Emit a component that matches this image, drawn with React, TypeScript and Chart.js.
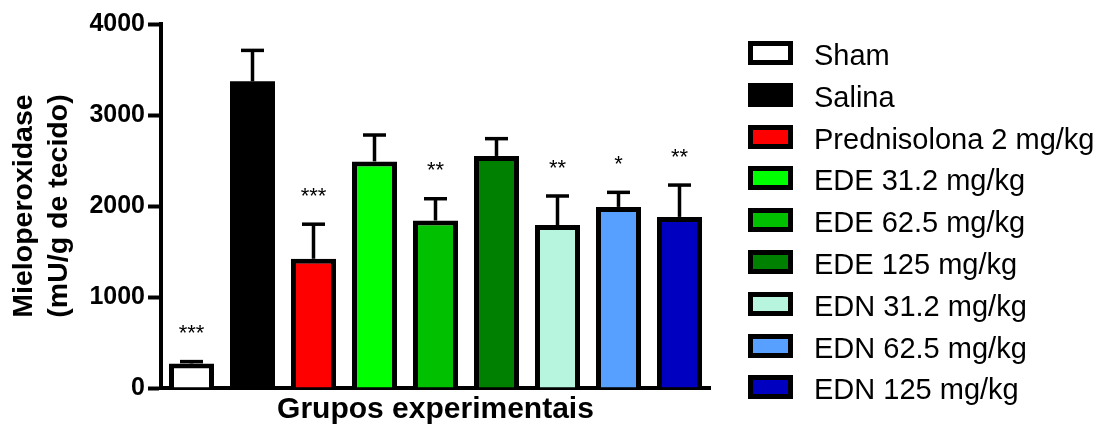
import { useEffect, useRef } from "react";
import { Chart, registerables } from "chart.js";

Chart.register(...registerables);

// Experimental groups (x categories and legend entries)
const groups = [
  "Sham",
  "Salina",
  "Prednisolona 2 mg/kg",
  "EDE 31.2 mg/kg",
  "EDE 62.5 mg/kg",
  "EDE 125 mg/kg",
  "EDN 31.2 mg/kg",
  "EDN 62.5 mg/kg",
  "EDN 125 mg/kg",
];

// Mean myeloperoxidase activity (mU/g de tecido) and its standard error
const meanMpo = [270, 3370, 1420, 2490, 1840, 2550, 1790, 1990, 1880];
const semMpo = [20, 340, 380, 290, 240, 190, 320, 160, 350];

// Significance markers versus the Salina group
const significance = ["***", "", "***", "", "**", "", "**", "*", "**"];

// Fill colour of each group
const fills = [
  "#FFFFFF",
  "#000000",
  "#FF0000",
  "#00FF00",
  "#00C000",
  "#008000",
  "#B8F5DF",
  "#58A0FF",
  "#0000C0",
];

// Y axis range and tick step
const yMin = 0;
const yMax = 4000;
const yStep = 1000;

const FONT = "'Liberation Sans', Arial, Helvetica, sans-serif";
const OUTLINE = "#000000";

// Upper error bars (mean + SEM) with caps
const errorBarPlugin = {
  id: "errorBars",
  afterDatasetsDraw(chart: any) {
    const ctx = chart.ctx;
    const meta = chart.getDatasetMeta(0);
    const yScale = chart.scales.y;
    ctx.save();
    ctx.strokeStyle = OUTLINE;
    ctx.lineWidth = 3.5;
    ctx.lineCap = "butt";
    meta.data.forEach((bar: any, i: number) => {
      const x = bar.x;
      const top = bar.y;
      const yErr = yScale.getPixelForValue(meanMpo[i] + semMpo[i]);
      const half = 11.5;
      ctx.beginPath();
      ctx.moveTo(x, top);
      ctx.lineTo(x, yErr);
      ctx.stroke();
      ctx.beginPath();
      ctx.moveTo(x - half, yErr);
      ctx.lineTo(x + half, yErr);
      ctx.stroke();
    });
    ctx.restore();
  },
};

// Asterisks above the error bars
const significancePlugin = {
  id: "significance",
  afterDatasetsDraw(chart: any) {
    const ctx = chart.ctx;
    const meta = chart.getDatasetMeta(0);
    const yScale = chart.scales.y;
    const size = 22;
    ctx.save();
    ctx.fillStyle = "#000";
    ctx.font = `${size}px ${FONT}`;
    ctx.textAlign = "center";
    ctx.textBaseline = "alphabetic";
    meta.data.forEach((bar: any, i: number) => {
      const mark = significance[i];
      if (!mark) return;
      const yErr = yScale.getPixelForValue(meanMpo[i] + semMpo[i]);
      const centre = yErr - 34;
      ctx.fillText(mark, bar.x, centre + 0.57 * size);
    });
    ctx.restore();
  },
};

// Legend with outlined colour boxes to the right of the plot
const boxLegendPlugin = {
  id: "boxLegend",
  afterDraw(chart: any) {
    const ctx = chart.ctx;
    const area = chart.chartArea;
    const boxX = area.right + 38;
    const boxW = 45;
    const boxH = 24;
    const border = 5;
    const rowGap = 41.8;
    const firstRow = area.top + 29;
    ctx.save();
    ctx.font = `29px ${FONT}`;
    ctx.textAlign = "left";
    ctx.textBaseline = "alphabetic";
    groups.forEach((name, i) => {
      const cy = Math.round(firstRow + i * rowGap);
      const top = cy - boxH / 2;
      ctx.fillStyle = OUTLINE;
      ctx.fillRect(boxX, top, boxW, boxH);
      ctx.fillStyle = fills[i];
      ctx.fillRect(boxX + border, top + border, boxW - 2 * border, boxH - 2 * border);
      ctx.fillStyle = "#000";
      ctx.fillText(name, boxX + 66, cy + 12);
    });
    ctx.restore();
  },
};

export default function App() {
  const canvasRef = useRef<HTMLCanvasElement | null>(null);

  useEffect(() => {
    const canvas = canvasRef.current;
    if (!canvas) return;
    const chart = new Chart(canvas, {
      type: "bar",
      data: {
        labels: groups,
        datasets: [
          {
            data: meanMpo,
            backgroundColor: fills,
            borderColor: OUTLINE,
            // a bar filled with the outline colour needs no separate outline
            borderWidth: (c: any) => (fills[c.dataIndex] === OUTLINE ? 0 : 5),
            borderSkipped: "start",
            barPercentage: 45 / 61,
            categoryPercentage: 1,
          },
        ],
      },
      options: {
        responsive: false,
        animation: false,
        devicePixelRatio: 1,
        events: [],
        layout: { padding: { left: 0, right: 396, top: 24, bottom: 0 } },
        plugins: {
          legend: { display: false },
          tooltip: { enabled: false },
        },
        scales: {
          x: {
            type: "category",
            offset: true,
            ticks: { display: false },
            grid: { display: false },
            border: { display: true, width: 4, color: "#000" },
            title: {
              display: true,
              text: "Grupos experimentais",
              color: "#000",
              font: { family: FONT, size: 30, weight: "bold", lineHeight: 1.2 },
              padding: { top: 0, bottom: 2 },
            },
            afterFit: (scale: any) => {
              scale.height = 42;
            },
          },
          y: {
            min: yMin,
            max: yMax,
            ticks: {
              stepSize: yStep,
              color: "#000",
              padding: 3,
              font: { family: FONT, size: 25, weight: "bold" },
              callback: (v: any) => String(v),
            },
            grid: {
              display: true,
              drawOnChartArea: false,
              drawTicks: true,
              tickLength: 13,
              tickWidth: 4,
              tickColor: "#000",
            },
            border: { display: true, width: 4, color: "#000" },
            title: {
              display: true,
              text: ["Mieloperoxidase", "(mU/g de tecido)"],
              color: "#000",
              font: { family: FONT, size: 28.5, weight: "bold", lineHeight: 1.23 },
              padding: { top: 7, bottom: 0 },
            },
            afterFit: (scale: any) => {
              scale.width = 161;
            },
          },
        },
      },
      plugins: [errorBarPlugin, significancePlugin, boxLegendPlugin],
    } as any);
    return () => chart.destroy();
  }, []);

  return (
    <div style={{ position: "absolute", left: 0, top: 0, width: 1106, height: 430, background: "#fff" }}>
      <canvas ref={canvasRef} width={1106} height={430} style={{ display: "block" }} />
    </div>
  );
}
